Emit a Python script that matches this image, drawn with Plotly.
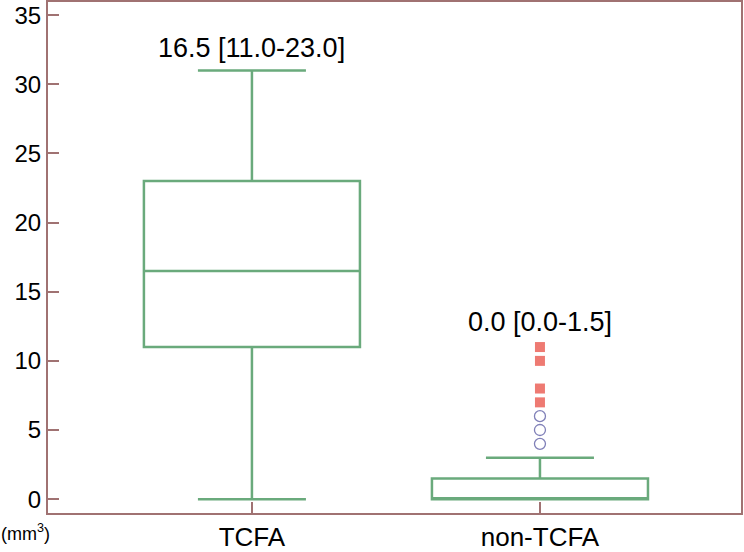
import plotly.graph_objects as go

categories = ["TCFA", "non-TCFA"]
q1 = [11.0, 0.0]
median = [16.5, 0.0]
q3 = [23.0, 1.5]
lower_fence = [0.0, 0.0]
upper_fence = [31.0, 3.0]
extreme_outliers = [11, 10, 8, 7]   # squares, non-TCFA
mild_outliers = [6, 5, 4]           # circles, non-TCFA
labels = ["16.5 [11.0-23.0]", "0.0 [0.0-1.5]"]
label_y = [32.6, 12.8]
y_ticks = [0, 5, 10, 15, 20, 25, 30, 35]

GREEN = "#6aaa7c"
FRAME = "#a07272"
FONT = "Liberation Sans, Arial, Helvetica, sans-serif"

fig = go.Figure()
fig.add_trace(go.Box(
    x=categories, q1=q1, median=median, q3=q3,
    lowerfence=lower_fence, upperfence=upper_fence,
    boxpoints=False, fillcolor="rgba(0,0,0,0)",
    line=dict(color=GREEN, width=2.5), whiskerwidth=0.5,
    width=0.75, showlegend=False, hoverinfo="skip"))
fig.add_trace(go.Scatter(
    x=[categories[1]] * len(extreme_outliers), y=extreme_outliers, mode="markers",
    marker=dict(symbol="square", size=10, color="#ee7a72"), showlegend=False))
fig.add_trace(go.Scatter(
    x=[categories[1]] * len(mild_outliers), y=mild_outliers, mode="markers",
    marker=dict(symbol="circle-open", size=11, color="#8080b8", line=dict(width=1.3)),
    showlegend=False))

for c, t, yy in zip(categories, labels, label_y):
    fig.add_annotation(x=c, y=yy, text=t, showarrow=False,
                       font=dict(size=27, color="black", family=FONT))

fig.add_annotation(xref="paper", yref="paper", x=-0.033, y=-0.012,
                   text="(mm<sup>3</sup>)", showarrow=False, xanchor="center", yanchor="top",
                   font=dict(size=18, color="black", family=FONT))

fig.update_layout(
    width=744, height=552,
    margin=dict(l=48, r=3, t=0, b=36),
    paper_bgcolor="white", plot_bgcolor="white",
    font=dict(family=FONT, color="black"),
    xaxis=dict(range=[-0.708, 1.698], showgrid=False, zeroline=False,
               showline=True, linecolor=FRAME, linewidth=2, mirror=True,
               ticks="inside", ticklen=11, tickcolor=FRAME, tickwidth=2,
               tickfont=dict(size=26, family=FONT)),
    yaxis=dict(range=[-1.0, 35.95], showgrid=False, zeroline=False,
               showline=True, linecolor=FRAME, linewidth=2, mirror=True,
               ticks="inside", ticklen=11, tickcolor=FRAME, tickwidth=2,
               tickvals=y_ticks, tickfont=dict(size=24, family=FONT)),
)

fig.write_html("out.html", config={"displayModeBar": False},
               post_script="document.body.style.margin='0';document.body.style.overflow='hidden';")
